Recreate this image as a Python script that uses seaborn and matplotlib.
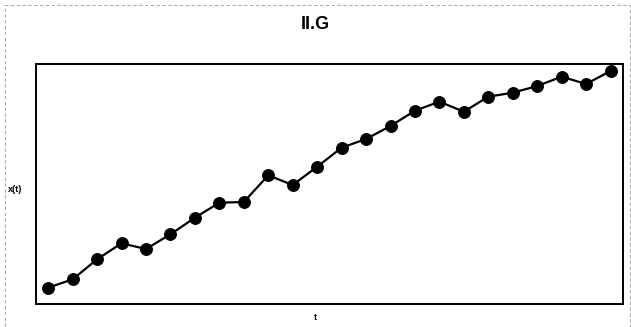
import matplotlib
matplotlib.use("Agg")
import matplotlib.pyplot as plt
import numpy as np
import seaborn as sns
from matplotlib.patches import Rectangle

# -----------------------------
# Dados
# -----------------------------
t = np.arange(1, 25)
x_t = [1.63, 2.47, 4.47, 6.07, 5.50, 6.97, 8.63, 10.13, 10.20, 12.87,
       11.90, 13.73, 15.63, 16.50, 17.80, 19.33, 20.23, 19.23, 20.73,
       21.13, 21.80, 22.73, 22.00, 23.30]

sns.set_theme(style="white")
plt.rcParams["font.family"] = ["Liberation Sans", "DejaVu Sans"]
plt.rcParams["text.color"] = "black"

fig = plt.figure(figsize=(6.31, 3.27), dpi=100)
ax = fig.add_axes([0.057, 0.0703, 0.930, 0.734])

sns.lineplot(x=t, y=x_t, ax=ax, color="black", linewidth=1.6,
             marker="o", markersize=8.5, markeredgecolor="black",
             markerfacecolor="black")

ax.set_xlim(0.5, 24.5)
ax.set_ylim(0, 24)
ax.set_xticks([])
ax.set_yticks([])
for s in ax.spines.values():
    s.set_color("black")
    s.set_linewidth(1.4)

ax.set_xlabel("")
ax.set_ylabel("")
fig.text(0.5, 0.925, "II.G", ha="center", va="center",
         fontsize=13, fontweight="bold", color="black")
fig.text(0.5, 0.028, "t", ha="center", va="center",
         fontsize=6.5, fontweight="bold", color="black")
fig.text(0.024, 0.42, "x(t)", ha="center", va="center",
         fontsize=6.5, fontweight="bold", color="black")

# moldura tracejada do scan
fig.patches.append(Rectangle((0.008, 0.0), 0.99, 0.985, transform=fig.transFigure,
                             fill=False, edgecolor="#999999", linewidth=0.6,
                             linestyle=(0, (4, 3))))

fig.savefig("out.png", dpi=100)
plt.close(fig)
